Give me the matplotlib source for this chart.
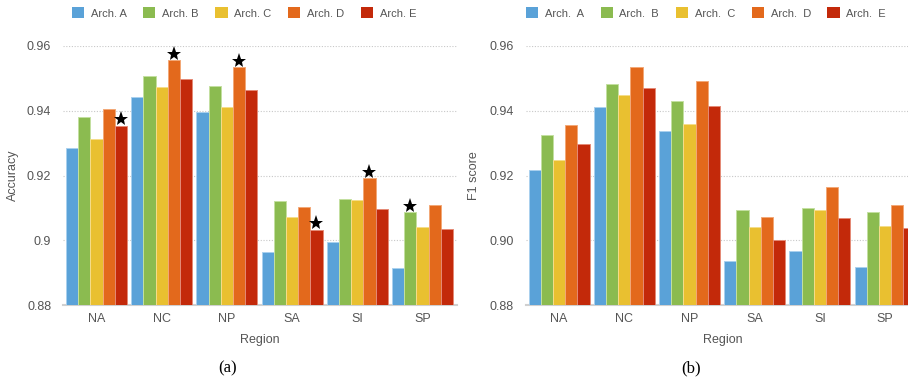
import matplotlib
matplotlib.use("Agg")
import matplotlib.pyplot as plt
from matplotlib.patches import Patch
import numpy as np

regions = ["NA", "NC", "NP", "SA", "SI", "SP"]
archs = ["A", "B", "C", "D", "E"]

# accuracy per region, one list per architecture
acc_a = [0.9286, 0.9441, 0.9396, 0.8965, 0.8994, 0.8915]
acc_b = [0.9380, 0.9506, 0.9477, 0.9120, 0.9126, 0.9088]
acc_c = [0.9312, 0.9474, 0.9413, 0.9072, 0.9123, 0.9042]
acc_d = [0.9405, 0.9556, 0.9536, 0.9104, 0.9191, 0.9108]
acc_e = [0.9354, 0.9497, 0.9464, 0.9033, 0.9097, 0.9036]
# best architecture per region (index into archs)
acc_best = [4, 3, 3, 4, 3, 1]

# F1 score per region
f1_a = [0.9218, 0.9411, 0.9338, 0.8936, 0.8966, 0.8916]
f1_b = [0.9325, 0.9482, 0.9430, 0.9093, 0.9099, 0.9088]
f1_c = [0.9247, 0.9449, 0.9358, 0.9040, 0.9093, 0.9043]
f1_d = [0.9355, 0.9534, 0.9492, 0.9072, 0.9164, 0.9109]
f1_e = [0.9296, 0.9469, 0.9414, 0.9002, 0.9069, 0.9037]

colors = ["#5aa2d8", "#8bbb50", "#e9c030", "#e3691c", "#c3290a"]
edges = ["#a9d0ef", "#c3e0a0", "#f5dd8a", "#f3a877", "#e58a76"]

plt.rcParams["font.family"] = ["Liberation Sans", "DejaVu Sans"]

fig = plt.figure(figsize=(9.08, 3.87), dpi=100)
W, H = 908.0, 387.0

bw = 0.187
x = np.arange(len(regions))
xlim = (-0.513, 5.53)
ax_w = (xlim[1] - xlim[0]) * 65.2


def draw_panel(left_px, series, ylabel, ticklabels, legend_fmt, ylab_x, leg_x, best=None):
    ax = fig.add_axes([left_px / W, (H - 305) / H, ax_w / W, 259 / H])
    for i, vals in enumerate(series):
        pos = x + (i - 2) * bw
        ax.bar(pos, np.array(vals) - 0.88, bottom=0.88, width=bw,
               color=colors[i], edgecolor=edges[i], linewidth=0.7, zorder=3)
    if best is not None:
        for g, b in enumerate(best):
            ax.plot(x[g] + (b - 2) * bw, series[b][g] + 0.0019, marker="*",
                    color="black", ms=11, mew=0, clip_on=False, zorder=4)
    ax.set_xlim(*xlim)
    ax.set_ylim(0.88, 0.96)
    ax.set_yticks([0.88, 0.90, 0.92, 0.94, 0.96])
    ax.set_yticklabels(ticklabels)
    ax.set_xticks(x)
    ax.set_xticklabels(regions)
    ax.tick_params(axis="y", length=0, pad=8.5, labelsize=9, labelcolor="#555555")
    ax.tick_params(axis="x", length=0, pad=6, labelsize=9, labelcolor="#555555")
    ax.grid(axis="y", color="#c8c8c8", linestyle=(0, (1, 1.5)), linewidth=0.8, zorder=0)
    for s in ["top", "right", "left"]:
        ax.spines[s].set_visible(False)
    ax.spines["bottom"].set_color("#d0d0d0")
    ax.spines["bottom"].set_linewidth(1.5)
    ax.set_xlabel("Region", fontsize=9, color="#555555", labelpad=6)
    ax.set_ylabel(ylabel, fontsize=9, color="#555555")
    ax.yaxis.set_label_coords(ylab_x, 0.5)
    handles = [Patch(facecolor=c, edgecolor="none") for c in colors]
    labels = [legend_fmt.format(a) for a in archs]
    ax.legend(handles, labels, ncol=5, loc="center",
              bbox_to_anchor=(leg_x, (305 - 13) / 259),
              frameon=False, fontsize=8, handlelength=1.1, handleheight=1.1,
              handletextpad=0.6, columnspacing=1.5, labelcolor="#555555")
    return ax


ax1 = draw_panel(63, [acc_a, acc_b, acc_c, acc_d, acc_e], "Accuracy",
                 ["0.88", "0.9", "0.92", "0.94", "0.96"], "Arch. {}", -0.112,
                 (244 - 63) / ax_w, best=acc_best)
ax2 = draw_panel(525.7, [f1_a, f1_b, f1_c, f1_d, f1_e], "F1 score",
                 ["0.88", "0.90", "0.92", "0.94", "0.96"], "Arch.  {}", -0.117,
                 (706 - 525.7) / ax_w)

fig.text(228 / W, 1 - 368 / H, "(a)", family="Liberation Serif", fontsize=12,
         ha="center", va="center")
fig.text(691 / W, 1 - 368 / H, "(b)", family="Liberation Serif", fontsize=12,
         ha="center", va="center")

fig.savefig("out.png", dpi=100)
